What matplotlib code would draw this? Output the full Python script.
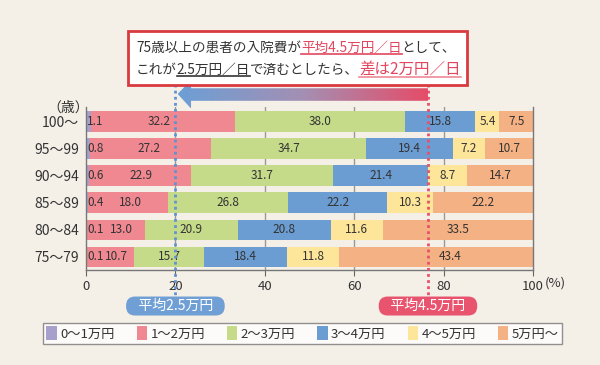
import numpy as np
import matplotlib
matplotlib.use("Agg")
import matplotlib.pyplot as plt
from matplotlib.lines import Line2D
from matplotlib.patches import Polygon, Rectangle, Patch
from matplotlib.colors import LinearSegmentedColormap
from matplotlib.transforms import blended_transform_factory

plt.rcParams['font.family'] = ['Noto Sans CJK JP', 'DejaVu Sans']

# data
ages = ['75〜79', '80〜84', '85〜89', '90〜94', '95〜99', '100〜']
bands = ['0〜1万円', '1〜2万円', '2〜3万円', '3〜4万円', '4〜5万円', '5万円〜']
v_0_1 = [0.1, 0.1, 0.4, 0.6, 0.8, 1.1]
v_1_2 = [10.7, 13.0, 18.0, 22.9, 27.2, 32.2]
v_2_3 = [15.7, 20.9, 26.8, 31.7, 34.7, 38.0]
v_3_4 = [18.4, 20.8, 22.2, 21.4, 19.4, 15.8]
v_4_5 = [11.8, 11.6, 10.3, 8.7, 7.2, 5.4]
v_5 = [43.4, 33.5, 22.2, 14.7, 10.7, 7.5]
avg_target = 20.0   # 平均2.5万円
avg_now = 76.5      # 平均4.5万円
ticks = [0, 20, 40, 60, 80, 100]

colors = ['#a79fcc', '#ef8891', '#c5db89', '#6b9cd2', '#fde69a', '#f4b183']
bg = '#f4f0e8'
txt = '#333333'
red = '#e2475f'

W, H = 600, 365
fig = plt.figure(figsize=(6, 3.65), dpi=100, facecolor=bg)

def fx(px):
    return px / W

def fy(py):
    return 1 - py / H

ax = fig.add_axes([fx(86), fy(270), fx(533) - fx(86), fy(107) - fy(270)])
ax.set_facecolor(bg)

series = [v_0_1, v_1_2, v_2_3, v_3_4, v_4_5, v_5]
y = np.arange(len(ages))
left = np.zeros(len(ages))
for k, vals in enumerate(series):
    vals = np.array(vals)
    ax.barh(y, vals, left=left, height=0.76, color=colors[k], zorder=2)
    for i, v in enumerate(vals):
        if k == 0:
            xt, ha = 0.3, 'left'
        elif k == 1:
            end = left[i] + v
            xt, ha = 4.0 + 0.42 * (end - 4.0), 'center'
        else:
            xt, ha = left[i] + v / 2, 'center'
            # keep the label off the dotted average line
            if abs(xt - avg_now) < 2.5 and v > 20:
                xt += 3
        ax.text(xt, i, f'{v:.1f}', ha=ha, va='center', fontsize=8.5, color=txt, zorder=4)
    left = left + vals

ax.set_xlim(0, 100)
ax.set_ylim(-0.48, len(ages) - 0.47)
ax.set_yticks(y)
ax.set_yticklabels(ages, fontsize=10, color=txt)
ax.set_xticks(ticks)
ax.set_xticklabels([str(t) for t in ticks], fontsize=9.5, color=txt)
ax.tick_params(axis='y', length=0, pad=5)
ax.tick_params(axis='x', length=4, color='#666666', pad=3)
for t in ticks[1:-1]:
    ax.axvline(t, color='#999999', lw=1, zorder=1)
ax.spines['top'].set_visible(False)
for s in ['left', 'right', 'bottom']:
    ax.spines[s].set_color('#777777')
    ax.spines[s].set_linewidth(1)

fig.text(fx(68), fy(108), '（歳）', ha='center', va='center', fontsize=10, color=txt)
ax.text(1.05, -0.08, '(%)', transform=ax.transAxes, ha='center', va='center',
        fontsize=9.5, color=txt)

# dotted average lines
tr = blended_transform_factory(ax.transData, ax.transAxes)
ax.plot([avg_target, avg_target], [1.18, -0.17], transform=tr, clip_on=False,
        color='#5f93d0', lw=2, linestyle=(0, (1, 1.2)), zorder=5)
ax.plot([avg_now, avg_now], [1.18, -0.17], transform=tr, clip_on=False,
        color='#e8506a', lw=2, linestyle=(0, (1, 1.2)), zorder=5)

# badges
ax.text(avg_target, -0.221, '   平均2.5万円   ', transform=tr, ha='center', va='center',
        fontsize=10, color='white', zorder=6,
        bbox=dict(boxstyle='round,pad=0.18,rounding_size=0.65', fc='#6f9fd4', ec='none'))
ax.text(avg_now, -0.221, '   平均4.5万円   ', transform=tr, ha='center', va='center',
        fontsize=10, color='white', zorder=6,
        bbox=dict(boxstyle='round,pad=0.18,rounding_size=0.65', fc='#e8546e', ec='none'))

# gradient arrow above the bars
axa = fig.add_axes([fx(86), fy(108.5), fx(533) - fx(86), fy(80) - fy(108.5)])
axa.set_xlim(0, 100)
axa.set_ylim(0, 1)
axa.axis('off')
tip = avg_target + 0.5
back = tip + 3.0
poly = Polygon([[tip, 0.51], [back, 1.0], [back, 0.71], [avg_now, 0.71],
                [avg_now, 0.27], [back, 0.27], [back, 0.0]], closed=True,
               transform=axa.transData, fc='none', ec='none')
axa.add_patch(poly)
cmap = LinearSegmentedColormap.from_list('arr', ['#6c9fd6', '#a48fb3', '#e64c68'])
grad = np.linspace(0, 1, 256).reshape(1, -1)
im = axa.imshow(grad, extent=(tip, avg_now, 0, 1), aspect='auto', cmap=cmap, zorder=3)
im.set_clip_path(poly)

# legend
handles = [Patch(facecolor=c, edgecolor='none') for c in colors]
leg = fig.legend(handles, bands, ncol=6, loc='center',
                 bbox_to_anchor=(fx(43), fy(345.5), fx(562) - fx(43), fy(321) - fy(345.5)),
                 mode='expand', frameon=True, fancybox=False, fontsize=9.5,
                 handlelength=0.8, handleheight=1.25, handletextpad=0.25,
                 borderpad=0.25, borderaxespad=0)
leg.get_frame().set_edgecolor('#777777')
leg.get_frame().set_linewidth(1)
leg.get_frame().set_facecolor('white')
for t in leg.get_texts():
    t.set_color(txt)

# header box
fig.add_artist(Rectangle((fx(128), fy(85)), fx(467) - fx(128), fy(30.6) - fy(85),
                         transform=fig.transFigure, fc='white', ec='#d93a40', lw=2))
renderer = fig.canvas.get_renderer()

def draw_pieces(x0, ybase, pieces):
    x = x0
    for s, color, size, ul, uly in pieces:
        t = fig.text(fx(x), fy(ybase), s, color=color, fontsize=size, ha='left', va='baseline')
        w = t.get_window_extent(renderer).width
        if ul:
            fig.add_artist(Line2D([fx(x), fx(x + w)], [fy(uly), fy(uly)],
                                  transform=fig.transFigure, color=ul, lw=1.2))
        x += w

draw_pieces(136, 52, [
    ('75歳以上の患者の入院費が', txt, 9.8, None, 0),
    ('平均4.5万円／日', red, 9.8, red, 54),
    ('として、', txt, 9.8, None, 0),
])
draw_pieces(136, 73.5, [
    ('これが', txt, 9.8, None, 0),
    ('2.5万円／日', txt, 9.8, txt, 75.5),
    ('で済むとしたら、', txt, 9.8, None, 0),
    ('差は2万円／日', red, 11.2, '#ee8a96', 76.6),
])

fig.savefig('out.png', dpi=100, facecolor=bg)
